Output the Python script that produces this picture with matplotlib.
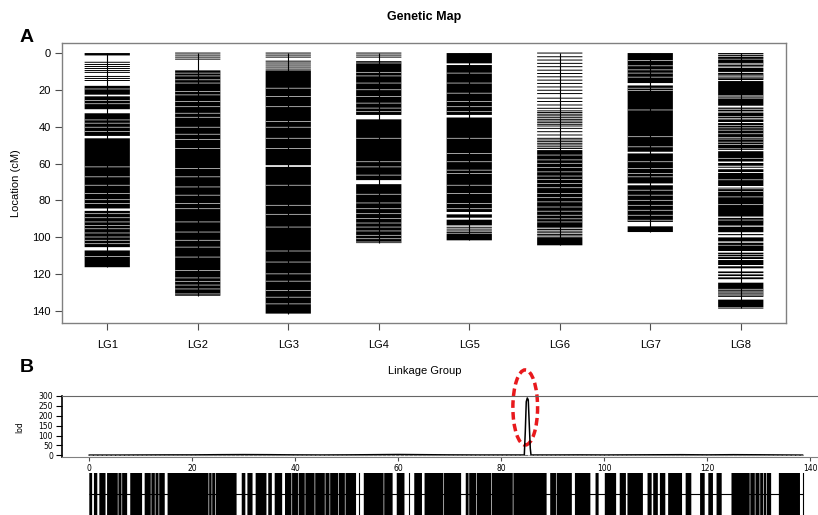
import matplotlib.pyplot as plt
from matplotlib.patches import Ellipse

plt.rcParams['font.family'] = ['Liberation Sans', 'DejaVu Sans']

groups = ['LG1', 'LG2', 'LG3', 'LG4', 'LG5', 'LG6', 'LG7', 'LG8']

# marker map per linkage group (cM):
# dense = runs of tightly packed markers (start, end), breaks = thin gaps inside runs,
# single = isolated markers
lg1_dense = [(0, 1.3), (17.8, 22.6), (23.5, 30.5), (32.7, 45.0), (46.3, 84.4),
             (85.7, 105.4), (107.2, 116.3)]
lg1_breaks = [19.5, 25.8, 27.5, 36.3, 38.1, 40.3, 42.6, 61.8, 67.2, 71.8, 76.3, 79.6,
              81.7, 87.2, 89.4, 91.7, 93.6, 95.4, 97.7, 99.9, 101.7, 103.5, 110.5]
lg1_single = [5.0, 6.2, 7.3, 8.4, 9.5, 10.5, 12.7, 13.8, 14.9]

lg2_dense = [(9.4, 131.8)]
lg2_breaks = [10.9, 12.4, 14.5, 16.3, 20.9, 22.7, 26.3, 29.1, 32.7, 34.9, 40.3, 44.1,
              46.9, 51.8, 62.7, 67.2, 72.7, 77.2, 81.7, 84.5, 91.7, 97.2, 101.7, 105.4,
              110.8, 118.1, 122.1, 124.0, 126.0, 128.1, 130.8]
lg2_single = [0, 1.1, 2.2, 3.3]

lg3_dense = [(9.4, 60.9), (61.8, 141.5)]
lg3_breaks = [19.1, 23.6, 29.1, 37.2, 40.3, 46.3, 51.8, 71.8, 82.7, 87.6, 94.5, 107.5,
              113.5, 119.9, 123.9, 129.0, 132.6, 136.2]
lg3_single = [0, 1.1, 2.2, 4.4, 5.4, 6.5, 7.6, 8.7]

lg4_dense = [(4.4, 33.6), (36.0, 69.0), (71.2, 103.2)]
lg4_breaks = [5.4, 10.5, 12.4, 16.3, 19.9, 23.6, 27.2, 29.9, 31.8, 46.3, 59.0, 61.8,
              66.3, 76.7, 81.4, 84.5, 87.2, 89.9, 92.3, 94.5, 96.6, 99.0, 100.8, 102.6]
lg4_single = [0, 1.1, 2.2]

lg5_dense = [(0, 5.6), (6.5, 33.6), (35.0, 86.3), (87.6, 89.4), (90.5, 93.6), (98.0, 101.7)]
lg5_breaks = [10.9, 16.3, 21.8, 26.3, 29.1, 31.8, 46.3, 54.5, 59.0, 63.6, 65.4, 71.8,
              76.3, 81.7, 84.5]
lg5_single = [94.6, 95.6, 96.6, 97.4]

lg6_dense = [(52.7, 94.5), (100.0, 104.4)]
lg6_breaks = [55.4, 58.0, 59.9, 62.2, 64.5, 66.8, 68.6, 70.8, 73.1, 76.3, 78.5, 80.8,
              83.6, 85.9, 88.1, 90.0, 91.7]
lg6_single = [0, 2.0, 3.8, 5.6, 7.4, 9.3, 11.1, 12.9, 14.7, 16.5, 18.4, 20.2, 22.0,
              24.5, 26.3, 28.2, 30.0, 31.4, 32.3, 33.2, 34.1, 35.1, 36.0, 36.9, 37.8,
              38.7, 39.6, 40.9, 42.7, 44.5, 46.3, 47.2, 48.1, 49.0, 49.9, 50.9, 51.8,
              94.9, 95.8, 96.7, 97.6, 98.5, 99.3]

lg7_dense = [(0, 16.3), (17.6, 53.6), (54.5, 70.8), (71.8, 91.7), (94.1, 97.2)]
lg7_breaks = [4.0, 6.9, 9.1, 10.9, 13.1, 19.1, 20.3, 30.9, 45.4, 50.9, 59.0, 62.7, 65.4,
              67.2, 74.5, 77.2, 80.0, 82.7, 85.4, 88.1, 90.8]
lg7_single = []

lg8_dense = [(0, 0.55), (0.9, 1.55), (1.95, 3.15), (3.45, 7.35), (7.95, 10.25),
             (10.75, 14.65), (15.2, 28.6), (29.6, 30.3), (30.7, 31.7), (32.3, 34.4),
             (34.75, 35.45), (36.0, 37.45), (38.0, 51.8), (53.3, 58.9), (59.7, 61.2),
             (63.1, 64.6), (65.1, 72.2), (73.1, 88.8), (89.5, 93.7), (94.3, 97.3),
             (98.3, 98.9), (100.1, 102.3), (103.0, 104.2), (104.5, 107.5), (108.4, 109.2),
             (109.5, 110.4), (110.8, 111.85), (112.4, 115.1), (115.8, 116.9),
             (118.6, 119.5), (120.2, 121.1), (121.8, 122.8), (124.7, 132.4), (133.9, 138.0)]
lg8_breaks = [5.6, 6.3, 12.0, 12.8, 13.5, 23.2, 23.8, 24.5, 39.3, 40.6, 41.9, 43.8, 45.8,
              46.7, 48.4, 49.7, 57.2, 68.8, 73.7, 75.2, 78.1, 82.3, 90.7, 128.3, 129.3,
              130.2, 130.9, 131.5]
lg8_single = [52.3, 62.0, 138.5]

dense = [lg1_dense, lg2_dense, lg3_dense, lg4_dense, lg5_dense, lg6_dense, lg7_dense, lg8_dense]
breaks = [lg1_breaks, lg2_breaks, lg3_breaks, lg4_breaks, lg5_breaks, lg6_breaks, lg7_breaks, lg8_breaks]
single = [lg1_single, lg2_single, lg3_single, lg4_single, lg5_single, lg6_single, lg7_single, lg8_single]

# LOD scan along LG8
lod_pos = [0, 5, 10, 15, 20, 25, 30, 35, 40, 45, 50, 55, 60, 65, 70, 75, 80, 84.0,
           84.47, 84.66, 84.85, 85.05, 85.24, 85.44, 85.63, 85.77, 86.2, 90, 95, 100,
           105, 110, 115, 120, 125, 130, 135, 138.5]
lod_val = [1, 1, 1.5, 2, 2, 3, 3.5, 3, 2, 1.5, 2, 3, 4, 3, 2, 1.5, 1.5, 1.5,
           1.5, 119, 271, 290, 280, 153, 35, 1.5, 1.5, 1.5, 2, 1.5,
           2, 2.5, 3, 2, 3, 2.5, 1.5, 1]

fig = plt.figure(figsize=(8.18, 5.15), dpi=100)

# ---- Panel A: genetic map
ax = fig.add_axes([0.0758, 0.3728, 0.8851, 0.5442])
for i in range(len(groups)):
    x = i + 1
    for s, e in dense[i]:
        ax.bar(x, e - s, bottom=s, width=0.5, color='black', linewidth=0, snap=False)
    ax.hlines(breaks[i], x - 0.25, x + 0.25, color='0.75', lw=0.6, snap=False)
    if single[i]:
        ax.hlines(single[i], x - 0.25, x + 0.25, color='black', lw=0.7, snap=False)
    top = max([e for s, e in dense[i]] + single[i])
    ax.vlines(x, 0, top, color='black', lw=0.8)

ax.set_xlim(0.5, 8.5)
ax.set_ylim(146.6, -5.6)
ax.set_xticks(range(1, 9), groups, fontsize=8)
ax.set_yticks(range(0, 141, 20))
ax.tick_params(axis='y', labelsize=8, length=5, color='0.3', pad=3)
ax.tick_params(axis='x', length=5, color='0.3', pad=7)
for sp in ax.spines.values():
    sp.set_color('0.5')
    sp.set_linewidth(1.0)

fig.text(0.518, 0.967, 'Genetic Map', ha='center', va='center', fontsize=9, fontweight='bold')
fig.text(0.032, 0.928, 'A', ha='center', va='center', fontsize=14, fontweight='bold')
fig.text(0.019, 0.645, 'Location (cM)', ha='center', va='center', rotation=90, fontsize=8)

# ---- Panel B: LOD profile
fig.text(0.033, 0.287, 'B', ha='center', va='center', fontsize=14, fontweight='bold')
fig.text(0.519, 0.280, 'Linkage Group', ha='center', va='center', fontsize=8)

axl = fig.add_axes([0.0758, 0.1121, 0.9242, 0.1190])
axl.plot(lod_pos, lod_val, color='black', lw=1.1)
axl.plot(lod_pos, [0] * len(lod_pos), color='0.45', lw=0.8, ls=(0, (3, 1)))
axl.set_xlim(-5.3, 141.5)
axl.set_ylim(-10, 300)
axl.set_yticks(range(0, 301, 50))
axl.set_xticks(range(0, 141, 20))
axl.tick_params(axis='y', labelsize=5.5, length=4.5, pad=2)
axl.tick_params(axis='x', labelsize=5.5, length=3, pad=2, color='0.3')
for lab in axl.get_xticklabels() + axl.get_yticklabels():
    lab.set_family('DejaVu Sans')
axl.spines['right'].set_visible(False)
axl.spines['top'].set_color('0.4')
axl.spines['bottom'].set_color('0.5')
axl.spines['left'].set_linewidth(1.2)
axl.set_ylabel('lod', fontsize=5.5, family='DejaVu Sans', labelpad=6)
axl.yaxis.set_label_coords(-0.05, 0.5)

ipk = lod_val.index(max(lod_val))
axl.add_patch(Ellipse((lod_pos[ipk] - 0.4, 242), 4.8, 380, fill=False, edgecolor='#e8191c',
                      lw=2.5, ls=(0, (2.2, 1.2)), clip_on=False))

# ---- barcode of LG8 markers
axb = fig.add_axes([0.0758, 0.0, 0.9242, 0.0822])
for s, e in lg8_dense:
    axb.axvspan(s, e, color='black', lw=0, snap=False)
for b in lg8_breaks:
    axb.axvline(b, color='0.75', lw=0.6, snap=False)
for m in lg8_single:
    axb.axvline(m, color='black', lw=0.8)
axb.hlines(0.5, 0, max(lg8_single), color='black', lw=0.8)
axb.set_xlim(-5.3, 141.5)
axb.set_ylim(0, 1)
axb.axis('off')

fig.savefig('out.png', dpi=100)
